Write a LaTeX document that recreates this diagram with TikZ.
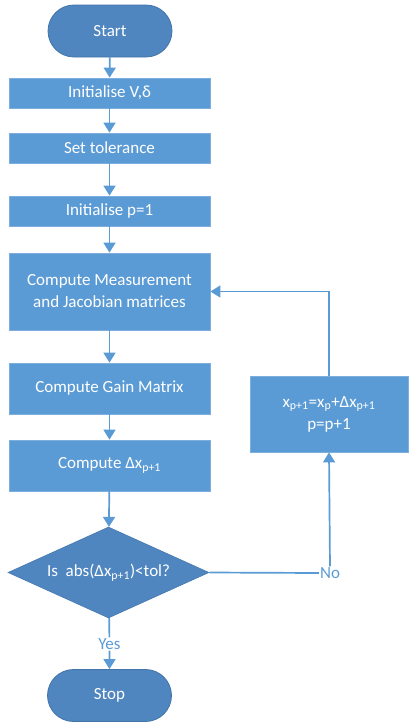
\documentclass[tikz,border=0pt]{standalone}
\usepackage{fontspec}
\setmainfont{Carlito}
\usepackage{tikz}
\usetikzlibrary{shapes.misc}
\usetikzlibrary{shapes.geometric}
\usetikzlibrary{arrows.meta}
\definecolor{boxblue}{HTML}{5B9BD5}
\definecolor{termblue}{HTML}{4F86BF}
\definecolor{edgeblue}{HTML}{4274A8}
\tikzset{procbox/.style={rectangle, fill=boxblue, draw=boxblue!80!white, line width=.8pt,
    text=white, align=center, inner sep=0pt, minimum width=201pt}}
\tikzset{terminal/.style={rounded rectangle, fill=termblue, draw=edgeblue, line width=.8pt,
    text=white, inner sep=0pt, minimum width=124pt, minimum height=52pt}}
\tikzset{decision/.style={diamond, aspect=2.2, fill=termblue, draw=edgeblue!70!termblue, line width=.6pt,
    text=white, inner sep=0pt, minimum width=201pt, minimum height=91pt}}
\tikzset{flow/.style={draw=boxblue, line width=1.7pt, -{Triangle[width=12pt,length=10pt]}}}
\tikzset{plain/.style={draw=boxblue, line width=1.7pt}}
\tikzset{branch/.style={text=boxblue, inner sep=1pt}}

\begin{document}
\begin{tikzpicture}[x=1pt,y=-1pt,font=\fontsize{17}{21}\selectfont]
  \useasboundingbox (0,0) rectangle (408,724);

  \node[terminal] (start) at (110,31) {Start};
  \foreach \y/\h/\name/\lab in {
    93/30/{Initialise V,δ}/init,
    148/30/{Set tolerance}/tol,
    211/30/{Initialise p=1}/initp,
    291.5/77/{Compute Measurement\\[1pt]and Jacobian matrices}/jac,
    388.5/51/{Compute Gain Matrix}/gain,
    465.5/51/{Compute Δx\textsubscript{p+1}}/dx%
  } {
    \node[procbox, minimum height=\h pt] (\lab) at (109.5,\y) {\name};
  }
  \node[procbox, minimum width=158pt, minimum height=76pt] (upd) at (329,414)
    {x\textsubscript{p+1}=x\textsubscript{p}+Δx\textsubscript{p+1}\\[1pt]p=p+1};
  \node[decision] (check) at (108.5,572.5) {Is\ \ abs(Δx\textsubscript{p+1})<tol?};
  \node[terminal] (stop) at (109.5,695.5) {Stop};
  \node[branch] (no) at (330,573) {No};
  \node[branch] (yes) at (109.5,644) {Yes};

  % main column
  \foreach \u/\v in {start/init, init/tol, tol/initp, initp/jac, jac/gain, gain/dx, dx/check}
    \draw[flow] (\u) -- (\v);
  \draw[plain] (check) -- (yes);
  \draw[flow] (yes) -- (stop);

  % loop back
  \draw[plain] (check.east) -- (no.west);
  \draw[flow] (no.north) -- (upd.south);
  \draw[flow] (upd.north) |- (jac.east);
\end{tikzpicture}
\end{document}
